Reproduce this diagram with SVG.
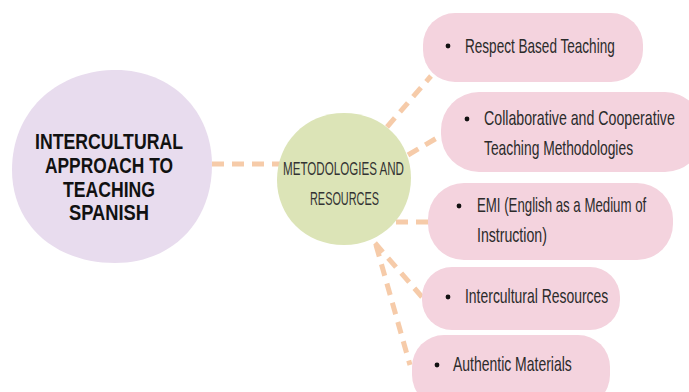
<svg xmlns="http://www.w3.org/2000/svg" width="689" height="392" viewBox="0 0 689 392">
<style>
.conn{fill:none;stroke:#f6cba9;stroke-width:5;stroke-dasharray:12 8}
.pink{fill:#f4d3de}
.lbl{font-family:"Liberation Sans",Arial,sans-serif;font-size:20px;fill:#2b2b2b}
.mid{font-family:"Liberation Sans",Arial,sans-serif;font-size:19px;fill:#333}
.main{font-family:"Liberation Sans",Arial,sans-serif;font-size:22px;font-weight:bold;fill:#111}
.dot{fill:#111}
</style>
<rect width="689" height="392" fill="#fff"/>
<g id="connectors">
<line class="conn" x1="212" y1="164" x2="283" y2="164"/>
<line class="conn" x1="387" y1="127" x2="431" y2="76"/>
<line class="conn" x1="408" y1="155" x2="442" y2="135"/>
<line class="conn" x1="396" y1="222" x2="429" y2="222"/>
<line class="conn" x1="375" y1="243" x2="422" y2="297"/>
<line class="conn" x1="376" y1="245" x2="410" y2="365"/>
</g>
<g id="main">
<path d="M112 70 C170 68 212 110 212 165 C212 222 172 263 115 263 C55 263 12 225 12 170 C12 112 55 72 112 70 Z" fill="#e8dcee"/>
<text class="main" text-anchor="middle" x="109" y="149" textLength="148" lengthAdjust="spacingAndGlyphs">INTERCULTURAL</text>
<text class="main" text-anchor="middle" x="109" y="173" textLength="128" lengthAdjust="spacingAndGlyphs">APPROACH TO</text>
<text class="main" text-anchor="middle" x="109" y="197" textLength="92" lengthAdjust="spacingAndGlyphs">TEACHING</text>
<text class="main" text-anchor="middle" x="109" y="220" textLength="80" lengthAdjust="spacingAndGlyphs">SPANISH</text>
</g>
<g id="methods">
<path d="M344 113 C383 113 411 142 411 178 C411 215 382 245 344 245 C305 245 277 216 277 180 C277 143 305 113 344 113 Z" fill="#dce4b7"/>
<text class="mid" x="283" y="175" textLength="121" lengthAdjust="spacingAndGlyphs">METODOLOGIES AND</text>
<text class="mid" x="310" y="205" textLength="69" lengthAdjust="spacingAndGlyphs">RESOURCES</text>
</g>
<g id="respect">
<rect class="pink" x="423" y="13" width="220" height="69" rx="32"/>
<circle class="dot" cx="448" cy="46" r="2.4"/>
<text class="lbl" transform="translate(465,53) scale(0.72,1)" textLength="208" lengthAdjust="spacingAndGlyphs">Respect Based Teaching</text>
</g>
<g id="collaborative">
<rect class="pink" x="441" y="92" width="262" height="80" rx="38"/>
<circle class="dot" cx="467" cy="119" r="2.4"/>
<text class="lbl" transform="translate(484,125) scale(0.72,1)" textLength="265" lengthAdjust="spacingAndGlyphs">Collaborative and Cooperative</text>
<text class="lbl" transform="translate(484,155) scale(0.72,1)" textLength="207" lengthAdjust="spacingAndGlyphs">Teaching Methodologies</text>
</g>
<g id="emi">
<rect class="pink" x="428" y="183" width="245" height="77" rx="36"/>
<circle class="dot" cx="459" cy="206" r="2.4"/>
<text class="lbl" transform="translate(477,212) scale(0.72,1)" textLength="235" lengthAdjust="spacingAndGlyphs">EMI (English as a Medium of</text>
<text class="lbl" transform="translate(477,242) scale(0.72,1)" textLength="97" lengthAdjust="spacingAndGlyphs">Instruction)</text>
</g>
<g id="intercultural">
<rect class="pink" x="422" y="267" width="198" height="63" rx="30"/>
<circle class="dot" cx="448" cy="297" r="2.4"/>
<text class="lbl" transform="translate(465,303) scale(0.72,1)" textLength="199" lengthAdjust="spacingAndGlyphs">Intercultural Resources</text>
</g>
<g id="authentic">
<rect class="pink" x="412" y="335" width="198" height="72" rx="32"/>
<circle class="dot" cx="437" cy="365" r="2.4"/>
<text class="lbl" transform="translate(453,371) scale(0.72,1)" textLength="165" lengthAdjust="spacingAndGlyphs">Authentic Materials</text>
</g>
</svg>
